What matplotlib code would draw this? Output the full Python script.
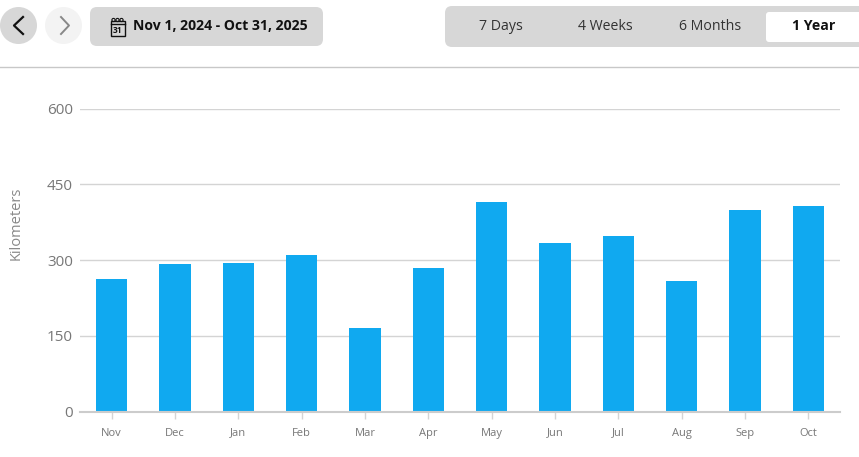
#!/usr/bin/env python3
"""Monthly distance bar chart with the date-range toolbar above it."""
import matplotlib
matplotlib.use("Agg")
import matplotlib.pyplot as plt
from matplotlib.patches import Circle, FancyBboxPatch, Rectangle

W, H = 859, 457
BLUE = "#10A9F0"
GRID = "#D4D4D4"
PANEL = "#D7D7D7"
DARK = "#111111"
MUTED = "#777777"

months = ["Nov", "Dec", "Jan", "Feb", "Mar", "Apr", "May", "Jun", "Jul", "Aug", "Sep", "Oct"]
km = [263, 293, 295, 311, 166, 285, 416, 333, 348, 259, 400, 407]
y_ticks = [0, 150, 300, 450, 600]
date_range = "Nov 1, 2024 - Oct 31, 2025"
ranges = ["7 Days", "4 Weeks", "6 Months", "1 Year"]
range_x = [501, 605, 710, 814]

plt.rcParams["font.family"] = ["Open Sans", "DejaVu Sans"]
fig = plt.figure(figsize=(W / 100, H / 100), dpi=100)

# chart
ax = fig.add_axes([80 / W, 1 - 411.6 / H, 760 / W, 303 / H])
ax.bar(range(len(km)), km, width=0.49, color=BLUE, zorder=3)
ax.set_xlim(-0.5, len(km) - 0.5)
ax.set_ylim(0, 600)
ax.set_yticks(y_ticks)
ax.set_xticks(range(len(months)))
ax.set_xticklabels(months, fontsize=8, color=MUTED)
ax.grid(axis="y", color=GRID, lw=1, zorder=1)
ax.tick_params(axis="y", length=0, pad=5, labelsize=11, labelcolor=MUTED)
ax.tick_params(axis="x", length=5, width=1, color=GRID, pad=6.5)
for side in ["top", "right", "left"]:
    ax.spines[side].set_visible(False)
ax.spines["bottom"].set_color("#CCCCCC")
ax.spines["bottom"].set_linewidth(1.5)
ax.spines["bottom"].set_zorder(4)
fig.text(16.5 / W, 1 - 223 / H, "Kilometers", rotation=90, ha="center", va="center",
         fontsize=10.5, color="#888888")

# toolbar, drawn in pixel coordinates
bar = fig.add_axes([0, 0, 1, 1], zorder=5)
bar.set_xlim(0, W)
bar.set_ylim(H, 0)
bar.axis("off")
bar.patch.set_alpha(0)
bar.plot([0, W], [67, 67], color="#C8C8C8", lw=1)


def panel(x0, y0, x1, y1, color, r=7):
    bar.add_patch(FancyBboxPatch((x0 + r, y0 + r), x1 - x0 - 2 * r, y1 - y0 - 2 * r,
                                 boxstyle=f"round,pad={r},rounding_size={r}", fc=color, ec="none"))


bar.add_patch(Circle((18.5, 25.5), 18.5, fc=PANEL, ec="none"))
bar.add_patch(Circle((63.5, 25.5), 18.5, fc="#F3F3F3", ec="none"))
bar.plot([23, 14, 23], [17, 25.5, 34], color=DARK, lw=1.6)
bar.plot([61, 69, 61], [17, 25.5, 34], color="#888888", lw=1.4)

panel(90, 7, 323, 46, PANEL)
bar.add_patch(Rectangle((110.5, 21), 14, 15, fc="none", ec=DARK, lw=1))
bar.plot([110.5, 124.5], [24, 24], color=DARK, lw=1)
for cx in (113.5, 117.5, 121.5):
    bar.add_patch(Circle((cx, 20), 1.6, fc="none", ec=DARK, lw=0.8))
bar.text(117.5, 30.5, "31", fontsize=6, fontweight="bold", ha="center", va="center", color=DARK)
bar.text(133, 26.5, date_range, fontsize=10.1, fontweight="bold", ha="left", va="center", color=DARK)

panel(445, 6, 880, 47, PANEL)
panel(766, 12, 880, 42, "white", r=3)
for label, x in zip(ranges, range_x):
    selected = label == "1 Year"
    bar.text(x, 26.5, label, fontsize=10.2, ha="center", va="center", color=DARK if selected else "#333333",
             fontweight="bold" if selected else "normal")

fig.savefig("out.png", dpi=100)
